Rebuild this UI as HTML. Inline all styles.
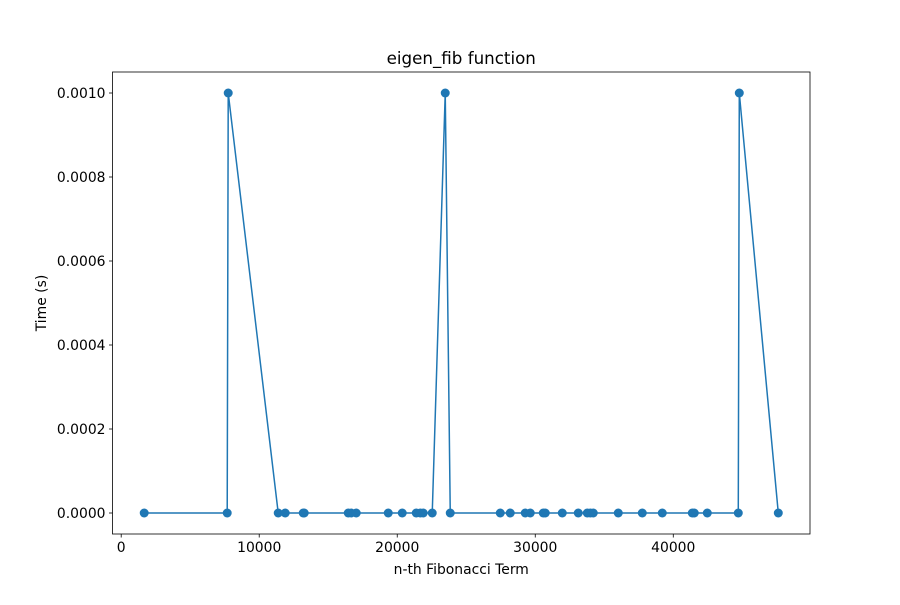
<!DOCTYPE html>
<html><head><meta charset="utf-8"><style>
body{margin:0;background:#fff;}
svg text{font-family:"DejaVu Sans","Liberation Sans",sans-serif;fill:#000;}
</style></head><body>
<svg id="chart" width="900" height="600" xmlns="http://www.w3.org/2000/svg">
<rect width="900" height="600" fill="#fff"/>
<g id="plot"></g>
</svg>
<script>
const xValues=[1667,7681,7754,11377,11884,13188,13261,16449,16667,17029,19348,20362,21377,21667,21884,22536,23478,23841,27464,28188,29275,29638,30580,30725,31957,33116,33768,33986,34203,36014,37754,39203,41377,41522,42464,44710,44783,47609];
const yValues=[0,0,0.001,0,0,0,0,0,0,0,0,0,0,0,0,0,0.001,0,0,0,0,0,0,0,0,0,0,0,0,0,0,0,0,0,0,0,0.001,0];
const xTicks=[0,10000,20000,30000,40000];
const yTicks=[0,0.0002,0.0004,0.0006,0.0008,0.001];
const yTickLabels=["0.0000","0.0002","0.0004","0.0006","0.0008","0.0010"];

const L=112.5,R=810,T=72,B=534;
const xmin=Math.min(...xValues),xmax=Math.max(...xValues),ymin=Math.min(...yValues),ymax=Math.max(...yValues);
const xp=(xmax-xmin)*0.05,yp=(ymax-ymin)*0.05;
const X=v=>L+(v-(xmin-xp))/((xmax+xp)-(xmin-xp))*(R-L);
const Y=v=>B-(v-(ymin-yp))/((ymax+yp)-(ymin-yp))*(B-T);
const NS="http://www.w3.org/2000/svg";
const g=document.getElementById('plot');
function mk(t,a,p){const e=document.createElementNS(NS,t);for(const k in a)e.setAttribute(k,a[k]);(p||g).appendChild(e);return e;}

let d=xValues.map((x,i)=>(i?'L':'M')+X(x)+','+Y(yValues[i])).join(' ');
const line=mk('path',{d:d,fill:'none',stroke:'#1f77b4','stroke-width':1.5});


xValues.forEach((x,i)=>{
  const c=mk('circle',{cx:X(x),cy:Y(yValues[i]),r:4.5,fill:'#1f77b4'});
  
  
});
const frame=mk('rect',{x:L,y:T,width:R-L,height:B-T,fill:'none',stroke:'#000','stroke-width':0.8});


xTicks.forEach(v=>{
  const x=X(v);
  mk('line',{x1:x,x2:x,y1:B,y2:B+3.5,stroke:'#000','stroke-width':0.8});
  const t=mk('text',{x:x,y:B+18,'text-anchor':'middle','font-size':13.9});
  t.textContent=v;
  
  
});
yTicks.forEach((v,i)=>{
  const y=Y(v);
  mk('line',{x1:L-3.5,x2:L,y1:y,y2:y,stroke:'#000','stroke-width':0.8});
  const t=mk('text',{x:L-7,y:y+5,'text-anchor':'end','font-size':13.9});
  t.textContent=yTickLabels[i];
  
  
});
const title=mk('text',{x:(L+R)/2,y:T-8,'text-anchor':'middle','font-size':16.7});
title.textContent='eigen_fib function';


const xl=mk('text',{x:(L+R)/2,y:574,'text-anchor':'middle','font-size':13.9});
xl.textContent='n-th Fibonacci Term';


const yl=mk('text',{x:46,y:(T+B)/2,'text-anchor':'middle','font-size':13.9,transform:'rotate(-90 46 '+(T+B)/2+')'});
yl.textContent='Time (s)';


</script>
</body></html>
